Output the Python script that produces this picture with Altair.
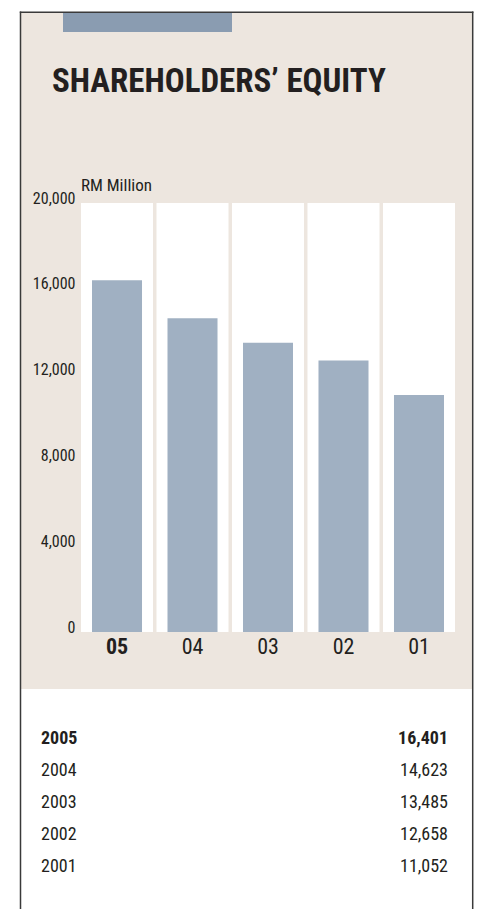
import altair as alt
import pandas as pd

# ---- data ----
years = ["2005", "2004", "2003", "2002", "2001"]
short_labels = ["05", "04", "03", "02", "01"]
equity = [16401, 14623, 13485, 12658, 11052]
y_ticks = [0, 4000, 8000, 12000, 16000, 20000]
title_text = ["SHAREHOLDERS\u2019 EQUITY"]
unit_text = ["RM Million"]

df = pd.DataFrame({"year": years, "short": short_labels, "equity": equity})
one = pd.DataFrame({"a": [0]})

# ---- style ----
FONT = "Roboto Condensed, Liberation Sans Narrow, Liberation Sans, Arial, sans-serif"
TXT = "#231f20"
BEIGE = "#ede6df"
BAR = "#a0b0c2"
TOPBAR = "#8a9cb1"
FRAME = "#3a3a3a"
W, H = 374, 429

X = alt.X(
    "short:N",
    sort=short_labels,
    scale=alt.Scale(paddingInner=0.046, paddingOuter=0),
    axis=alt.Axis(
        title=None, ticks=False, domain=False, labelAngle=0,
        labelFont=FONT, labelFontSize=22, labelPadding=21,
        labelBaseline="alphabetic", labelColor=TXT,
        labelFontWeight={"condition": {"test": "datum.value == '05'", "value": "bold"}, "value": "normal"},
        zindex=1,
    ),
)

deco = alt.Chart(one)
bg = deco.mark_rect(color=BEIGE).encode(
    x=alt.value(-60), x2=alt.value(391), y=alt.value(-190), y2=alt.value(486)
)
topbar = deco.mark_rect(color=TOPBAR).encode(
    x=alt.value(-18), x2=alt.value(151), y=alt.value(-190), y2=alt.value(-171)
)
frame_l = deco.mark_rule(color=FRAME, strokeWidth=1.5).encode(
    x=alt.value(-60.5), y=alt.value(-191.5), y2=alt.value(706)
)
frame_r = deco.mark_rule(color=FRAME, strokeWidth=1.5).encode(
    x=alt.value(391.7), y=alt.value(-191.5), y2=alt.value(706)
)
frame_t = deco.mark_rule(color=FRAME, strokeWidth=1.5).encode(
    x=alt.value(-61.2), x2=alt.value(392.4), y=alt.value(-190.7)
)

title = alt.Chart(pd.DataFrame({"t": title_text})).mark_text(
    font=FONT, fontSize=33, fontWeight="bold", align="left",
    baseline="alphabetic", color=TXT
).encode(text="t:N", x=alt.value(-29), y=alt.value(-111))

unit = alt.Chart(pd.DataFrame({"t": unit_text})).mark_text(
    font=FONT, fontSize=17, align="left", baseline="alphabetic", color=TXT
).encode(text="t:N", x=alt.value(0), y=alt.value(-12))

base = alt.Chart(df)

cols = base.mark_bar(color="white").encode(
    x=X,
    y=alt.YDatum(20000, type="quantitative",
                 scale=alt.Scale(domain=[0, 20000], nice=False), axis=None),
    y2=alt.Y2Datum(0),
)

bars = base.mark_bar(color=BAR, width={"band": 50 / 72}).encode(
    x=X,
    y=alt.Y(
        "equity:Q",
        scale=alt.Scale(domain=[0, 20000], nice=False),
        axis=alt.Axis(
            values=y_ticks, format=",.0f", title=None, ticks=False, domain=False,
            grid=False, labelFont=FONT, labelFontSize=16, labelPadding=6,
            labelBaseline="alphabetic", labelColor=TXT, zindex=1,
        ),
    ),
)

rowY = alt.Y("year:O", scale=alt.Scale(domain=years, range=[541, 669], padding=0), axis=None)


def table_layers(filter_expr, weight):
    b = base.transform_filter(filter_expr)
    left = b.mark_text(font=FONT, fontSize=18, fontWeight=weight, align="left",
                       baseline="alphabetic", color=TXT).encode(
        text="year:N", x=alt.value(-40), y=rowY)
    right = b.mark_text(font=FONT, fontSize=18, fontWeight=weight, align="right",
                        baseline="alphabetic", color=TXT).encode(
        text=alt.Text("equity:Q", format=","), x=alt.value(367), y=rowY)
    return [left, right]


tbl = table_layers(f"datum.year == '{years[0]}'", "bold") + \
      table_layers(f"datum.year != '{years[0]}'", "normal")

chart = alt.layer(
    bg, topbar, frame_l, frame_r, frame_t, title, cols, bars, unit, *tbl
).resolve_scale(y="independent").properties(
    width=W, height=H,
    autosize=alt.AutoSizeParams(type="none"),
    padding={"left": 81, "top": 203, "right": 26, "bottom": 277},
    background="white",
).configure_view(stroke=None)

chart.save("out.html", embed_options={"renderer": "svg", "actions": False})
